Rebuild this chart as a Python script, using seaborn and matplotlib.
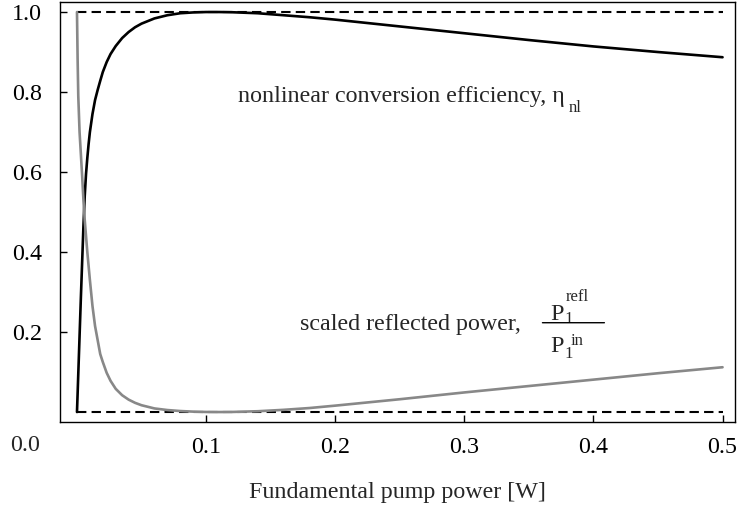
import numpy as np
import pandas as pd
import seaborn as sns
import matplotlib
matplotlib.use("Agg")
import matplotlib.pyplot as plt

# pump power [W] and curves
power = [0.0, 0.0005, 0.001, 0.002, 0.003, 0.004, 0.005, 0.006, 0.007,
         0.008, 0.009, 0.010, 0.012, 0.014, 0.016, 0.018, 0.020, 0.023,
         0.026, 0.030, 0.035, 0.040, 0.045, 0.050, 0.060, 0.070, 0.080,
         0.090, 0.100, 0.110, 0.120, 0.140, 0.160, 0.180, 0.200, 0.250,
         0.300, 0.350, 0.400, 0.450, 0.500]
efficiency = [0.0, 0.047, 0.095, 0.19, 0.285, 0.375, 0.465, 0.54, 0.595,
              0.635, 0.67, 0.70, 0.745, 0.78, 0.805, 0.828, 0.85, 0.875,
              0.895, 0.915, 0.935, 0.95, 0.962, 0.971, 0.984, 0.992, 0.997,
              0.999, 1.0, 1.0, 0.9995, 0.997, 0.992, 0.987, 0.981, 0.964,
              0.947, 0.930, 0.914, 0.900, 0.887]
reflected = [1.0, 0.88, 0.79, 0.70, 0.645, 0.59, 0.53, 0.48, 0.44,
             0.40, 0.365, 0.33, 0.265, 0.215, 0.18, 0.145, 0.125, 0.098,
             0.078, 0.058, 0.042, 0.031, 0.023, 0.017, 0.009, 0.005, 0.0025,
             0.001, 0.0002, 0.0, 0.0002, 0.002, 0.0055, 0.010, 0.016, 0.032,
             0.049, 0.065, 0.081, 0.097, 0.112]
limits = [0.0, 1.0]
xticks = [0.1, 0.2, 0.3, 0.4, 0.5]
yticks = [0.2, 0.4, 0.6, 0.8, 1.0]

df = pd.DataFrame({"power": power, "eta": efficiency, "refl": reflected})
bounds = pd.DataFrame({"power": [power[0], power[-1]]})

sns.set_style("ticks")
plt.rcParams["font.family"] = ["Liberation Serif", "DejaVu Serif"]

fs = 17.3
small = 12
fig, ax = plt.subplots(figsize=(7.4, 5.08), dpi=100)
fig.subplots_adjust(left=0.081, right=0.993, top=0.996, bottom=0.170)

# dashed bounds at 0 and 1
for lim in limits:
    ax.plot(bounds["power"], [lim, lim], color="black", lw=1.5,
            dashes=(4.5, 2.5))

sns.lineplot(data=df, x="power", y="eta", color="black", lw=1.9, ax=ax)
sns.lineplot(data=df, x="power", y="refl", color="#888888", lw=1.9, ax=ax)

ax.set_xlim(-0.0132, 0.5095)
ax.set_ylim(-0.024, 1.025)
ax.set_xticks(xticks)
ax.set_xticklabels([f"{t:.1f}" for t in xticks])
ax.set_yticks(yticks)
ax.set_yticklabels([f"{t:.1f}" for t in yticks])
ax.tick_params(direction="in", length=5, width=1, labelsize=fs, colors="black")
ax.tick_params(axis="x", pad=11)
ax.tick_params(axis="y", pad=13)
for s in ax.spines.values():
    s.set_linewidth(1)
    s.set_color("black")
ax.set_xlabel("Fundamental pump power [W]", fontsize=fs, labelpad=17)
ax.set_ylabel("")

ax.text(-0.0403, -0.0825, "0.0", fontsize=fs, ha="center", va="center",
        clip_on=False)

# efficiency label with gnuplot-like subscript
t1 = ax.text(0.1248, 0.775, "nonlinear conversion efficiency, \u03b7",
             fontsize=fs, va="baseline")
ax.annotate("nl", xy=(1.0, 0.775), xycoords=(t1, "data"),
            xytext=(3, -7.2), textcoords="offset points",
            fontsize=small, va="baseline")

# reflected power label with a stacked fraction
ax.text(0.173, 0.205, "scaled reflected power,", fontsize=fs, va="baseline")
pn = ax.text(0.3667, 0.23, "P", fontsize=fs, va="baseline")
ax.annotate("1", xy=(1.0, 0.23), xycoords=(pn, "data"),
            xytext=(0.3, -2.2), textcoords="offset points",
            fontsize=small, va="baseline")
ax.annotate("refl", xy=(1.0, 0.23), xycoords=(pn, "data"),
            xytext=(1.5, 13.5), textcoords="offset points",
            fontsize=small, va="baseline")
pd_ = ax.text(0.3667, 0.15, "P", fontsize=fs, va="baseline")
ax.annotate("1", xy=(1.0, 0.15), xycoords=(pd_, "data"),
            xytext=(0.3, -4.3), textcoords="offset points",
            fontsize=small, va="baseline")
ax.annotate("in", xy=(1.0, 0.15), xycoords=(pd_, "data"),
            xytext=(5.0, 5.0), textcoords="offset points",
            fontsize=small, va="baseline")
ax.annotate("", xy=(0.4085, 0.2233), xytext=(0.3605, 0.2233),
            arrowprops=dict(arrowstyle="-", lw=1.0, color="black",
                            shrinkA=0, shrinkB=0))

fig.savefig("out.png", dpi=100)
